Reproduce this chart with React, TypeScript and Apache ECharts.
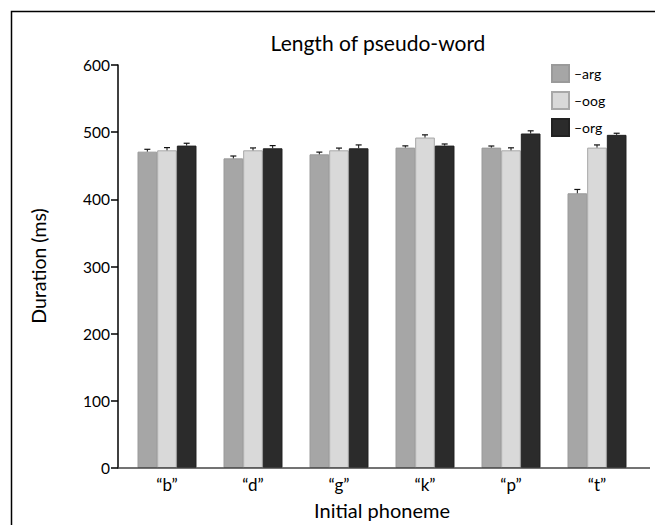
import React, { useEffect, useRef } from "react";
import * as echarts from "echarts";

const categories = ["“b”", "“d”", "“g”", "“k”", "“p”", "“t”"];
const seriesNames = ["–arg", "–oog", "–org"];
const argValues = [471, 461, 467, 477, 477, 409];
const oogValues = [473, 473, 473, 492, 473, 477];
const orgValues = [480, 476, 476, 480, 498, 496];
const argErr = [3.5, 3.5, 3.3, 2.6, 2.4, 5.7];
const oogErr = [4, 3.5, 3.3, 4, 3.7, 4];
const orgErr = [3.5, 4, 5, 2.4, 4, 2.4];
const yTicks = [0, 100, 200, 300, 400, 500, 600];

const FONT = "Lato";
const GAP = 0.314;

export default function App() {
  const ref = useRef<HTMLDivElement>(null);
  useEffect(() => {
    if (!ref.current) return;
    const chart = echarts.init(ref.current, null, { renderer: "svg" });
    const values = [argValues, oogValues, orgValues];
    const errs = [argErr, oogErr, orgErr];
    const colors = ["#a6a6a6", "#d9d9d9", "#2b2b2b"];
    const borders = ["#9a9a9a", "#a8a8a8", "#222222"];
    const barSeries = values.map((vals, k) => ({
      type: "bar",
      name: seriesNames[k],
      data: vals,
      barGap: "0%",
      barCategoryGap: GAP * 100 + "%",
      itemStyle: { color: colors[k], borderColor: borders[k], borderWidth: 1 },
    }));
    const errSeries = values.map((vals, k) => ({
      type: "custom",
      name: "err" + k,
      data: vals.map((v, i) => [i, v, errs[k][i]]),
      encode: { x: 0, y: 1 },
      z: 5,
      renderItem: (params: any, api: any) => {
        const i = api.value(0);
        const v = api.value(1);
        const e = api.value(2);
        const base = api.coord([i, v]);
        const top = api.coord([i, v + e]);
        const bandW = api.size([1, 0])[0];
        const bw = (bandW * (1 - GAP)) / 3;
        const x = base[0] + (k - 1) * bw;
        return {
          type: "group",
          children: [
            { type: "line", shape: { x1: x, y1: base[1], x2: x, y2: top[1] }, style: { stroke: "#111", lineWidth: 1 } },
            { type: "line", shape: { x1: x - 3, y1: top[1], x2: x + 3, y2: top[1] }, style: { stroke: "#111", lineWidth: 1.2 } },
          ],
        };
      },
    }));
    chart.setOption({
      animation: false,
      backgroundColor: "#fff",
      grid: { left: 124, top: 65, width: 516, height: 403, containLabel: false },
      legend: {
        data: seriesNames,
        orient: "vertical",
        left: 551,
        top: 64,
        itemWidth: 17,
        itemHeight: 17,
        itemGap: 8,
        padding: 0,
        icon: "rect",
        textStyle: { fontFamily: FONT, fontSize: 14, color: "#000" },
      },
      xAxis: {
        type: "category",
        data: categories,
        axisLine: { show: false },
        axisTick: { show: false },
        axisLabel: { fontFamily: FONT, fontSize: 17, color: "#000", margin: 8 },
      },
      yAxis: {
        type: "value",
        min: yTicks[0],
        max: yTicks[yTicks.length - 1],
        interval: 100,
        offset: 6,
        axisLine: { show: true, lineStyle: { color: "#000", width: 1.5 } },
        axisTick: { show: true, length: 7, lineStyle: { color: "#000", width: 1.5 } },
        splitLine: { show: false },
        axisLabel: { fontFamily: FONT, fontSize: 15.5, color: "#000", margin: 8 },
      },
      graphic: [
        { type: "rect", shape: { x: 11.5, y: 11.5, width: 700, height: 600 }, style: { fill: "none", stroke: "#000", lineWidth: 1.5 }, silent: true },
        { type: "line", shape: { x1: 118, y1: 468, x2: 650, y2: 468 }, style: { stroke: "#444", lineWidth: 1.5 }, z: 10 },
        { type: "text", x: 378, y: 42, style: { text: "Length of pseudo-word", fontFamily: FONT, fontSize: 21, fill: "#000", align: "center", verticalAlign: "middle" } },
        { type: "text", x: 382, y: 510, style: { text: "Initial phoneme", fontFamily: FONT, fontSize: 20, fill: "#000", align: "center", verticalAlign: "middle" } },
        { type: "text", x: 38, y: 266, rotation: Math.PI / 2, style: { text: "Duration (ms)", fontFamily: FONT, fontSize: 19.5, fill: "#000", align: "center", verticalAlign: "middle" } },
      ],
      series: [...barSeries, ...errSeries],
    });
    return () => chart.dispose();
  }, []);
  return <div ref={ref} style={{ position: "absolute", left: 0, top: 0, width: 655, height: 525 }} />;
}
